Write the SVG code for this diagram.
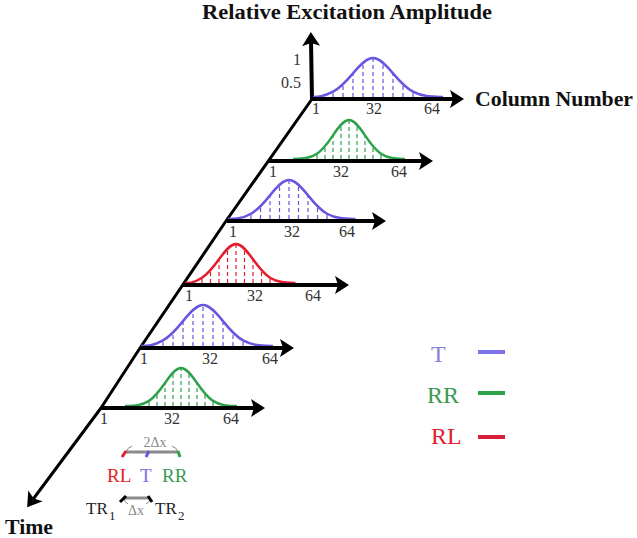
<svg xmlns="http://www.w3.org/2000/svg" width="637" height="538" viewBox="0 0 637 538">
<style>
.ax{stroke:#000;stroke-width:4;fill:none;marker-end:url(#ah)}
.diag{stroke:#000;stroke-width:3;fill:none;stroke-linejoin:round;marker-end:url(#ah)}
.cb{stroke:#6656e0;fill:none;stroke-width:2.5}
.cg{stroke:#2ca24a;fill:none;stroke-width:2.5}
.cr{stroke:#e31d2b;fill:none;stroke-width:2.5}
.db{stroke:#6656e0;fill:none;stroke-width:1.2;stroke-dasharray:4 3}
.dg{stroke:#2ca24a;fill:none;stroke-width:1.2;stroke-dasharray:4 3}
.dr{stroke:#e31d2b;fill:none;stroke-width:1.2;stroke-dasharray:4 3}
.bold{font-family:"Liberation Serif","Times New Roman",serif;font-weight:bold;font-size:20px;fill:#111}
.num{font-family:"Liberation Serif","Times New Roman",serif;font-size:16px;fill:#333;text-anchor:middle}
.lg{font-family:"Liberation Serif","Times New Roman",serif;font-size:24px}
.sm{font-family:"Liberation Serif","Times New Roman",serif;font-size:19px}
.gr{stroke:#8a8a8a;fill:none}
</style>
<defs>
<marker id="ah" viewBox="-1 -10 16 20" markerWidth="16" markerHeight="20" refX="5" refY="0" orient="auto" markerUnits="userSpaceOnUse">
<path d="M0,-9 L14,0 L0,9 L3,0 z" fill="#000"/>
</marker>
</defs>

<text class="bold" x="202" y="19" textLength="290" lengthAdjust="spacingAndGlyphs">Relative Excitation Amplitude</text>
<text class="bold" x="475" y="106" textLength="158" lengthAdjust="spacingAndGlyphs">Column Number</text>
<text class="bold" x="5" y="534" textLength="48" lengthAdjust="spacingAndGlyphs">Time</text>

<g id="connectors">
<line class="ax" x1="312" y1="99" x2="311" y2="41"/>
<path class="diag" d="M312,99 L226,221 L140,348 L101,408 L32.5,500"/>
</g>

<text class="num" x="297" y="65">1</text>
<text class="num" x="291" y="88">0.5</text>

<g id="row1">
<path class="db" d="M333,97V91.7M343,97V84.3M353,97V73.3M363,97V62.6M373,97V58M383,97V62.6M393,97V73.3M403,97V84.3M413,97V91.7"/>
<path class="cb" d="M313,97 C318,97 323,97 333,91.72 C339.66,88.21 346.34,81.23 353,73.35 C359.66,65.46 366.34,58 373,58 C379.66,58 386.34,65.46 393,73.35 C399.66,81.23 406.34,88.21 413,91.72 C423,97 433,96.77 443,97"/>
<line class="ax" x1="312" y1="99" x2="455" y2="99"/>
<text class="num" x="316" y="114">1</text><text class="num" x="374" y="114">32</text><text class="num" x="432" y="114">64</text>
</g>

<g id="row2">
<path class="dg" d="M317,159V153.7M325,159V146.3M333,159V135.3M341,159V124.6M349,159V120M357,159V124.6M365,159V135.3M373,159V146.3M381,159V153.7"/>
<path class="cg" d="M293,159 C301,158.77 309,159 317,153.72 C322.33,150.21 327.67,143.23 333,135.35 C338.33,127.46 343.67,120 349,120 C354.33,120 359.67,127.46 365,135.35 C370.33,143.23 375.67,150.21 381,153.72 C389,159 397,158.77 405,159"/>
<line class="ax" x1="269" y1="161" x2="424" y2="161"/>
<text class="num" x="273" y="177">1</text><text class="num" x="341" y="177">32</text><text class="num" x="399" y="177">64</text>
</g>

<g id="row3">
<path class="db" d="M251,219V213.7M260.5,219V206.3M270,219V195.3M279.5,219V184.6M289,219V180M298.5,219V184.6M308,219V195.3M317.5,219V206.3M327,219V213.7"/>
<path class="cb" d="M228,219 C235,219 241.5,219 251,213.72 C257.33,210.21 263.67,203.23 270,195.35 C276.33,187.46 282.67,180 289,180 C295.33,180 301.67,187.46 308,195.35 C314.33,203.23 320.67,210.21 327,213.72 C336.5,219 346,218.77 355.5,219"/>
<line class="ax" x1="227" y1="221" x2="377" y2="221"/>
<text class="num" x="233" y="237">1</text><text class="num" x="292" y="237">32</text><text class="num" x="347" y="237">64</text>
</g>

<g id="row4">
<path class="dr" d="M202,283V277.7M210.5,283V270.3M219,283V259.3M227.5,283V248.6M236,283V244M244.5,283V248.6M253,283V259.3M261.5,283V270.3M270,283V277.7"/>
<path class="cr" d="M185,283 C190,283 193.5,283 202,277.72 C207.67,274.21 213.33,267.23 219,259.35 C224.67,251.46 230.33,244 236,244 C241.67,244 247.33,251.46 253,259.35 C258.67,267.23 264.33,274.21 270,277.72 C278.5,283 287,282.77 295.5,283"/>
<line class="ax" x1="183" y1="285" x2="340" y2="285"/>
<text class="num" x="189" y="301">1</text><text class="num" x="255" y="301">32</text><text class="num" x="313" y="301">64</text>
</g>

<g id="row5">
<path class="db" d="M163,346V340.5M173,346V332.7M183,346V321.1M193,346V309.8M203,346V305M213,346V309.8M223,346V321.1M233,346V332.7M243,346V340.5"/>
<path class="cb" d="M141,346 C148,346 153,346 163,340.45 C169.66,336.75 176.34,329.42 183,321.13 C189.66,312.84 196.34,305 203,305 C209.66,305 216.34,312.84 223,321.13 C229.66,329.42 236.34,336.75 243,340.45 C253,346 263,345.75 273,346"/>
<line class="ax" x1="140" y1="348" x2="285" y2="348"/>
<text class="num" x="144" y="364">1</text><text class="num" x="210" y="364">32</text><text class="num" x="270" y="364">64</text>
</g>

<g id="row6">
<path class="dg" d="M149,406V400.9M157,406V393.7M165,406V383M173,406V372.5M181,406V368M189,406V372.5M197,406V383M205,406V393.7M213,406V400.9"/>
<path class="cg" d="M125,406 C133,405.77 141,406 149,400.86 C154.33,397.43 159.67,390.64 165,382.95 C170.33,375.27 175.67,368 181,368 C186.33,368 191.67,375.27 197,382.95 C202.33,390.64 207.67,397.43 213,400.86 C221,406 229,405.77 237,406"/>
<line class="ax" x1="101" y1="408" x2="256" y2="408"/>
<text class="num" x="104" y="424">1</text><text class="num" x="172" y="424">32</text><text class="num" x="231" y="424">64</text>
</g>

<g id="legend">
<text class="lg" x="431" y="362" fill="#8a7fe0">T</text>
<line x1="478" y1="352" x2="505" y2="352" stroke="#7b70e8" stroke-width="4"/>
<text class="lg" x="427" y="403" fill="#3a9a50">RR</text>
<line x1="478" y1="393" x2="505" y2="393" stroke="#2ca24a" stroke-width="4"/>
<text class="lg" x="431" y="444" fill="#e02030">RL</text>
<line x1="478" y1="437" x2="505" y2="437" stroke="#d81f35" stroke-width="4"/>
</g>

<g id="spacing">
<text x="155" y="447" font-family="Liberation Serif, Times New Roman, serif" font-size="14" fill="#8a8a8a" text-anchor="middle">2Δx</text>
<line class="gr" x1="126" y1="452" x2="178" y2="452" stroke-width="3"/>
<path class="gr" stroke-width="1" d="M132,446 Q127,448 126,452 M172,446 Q177,448 178,452"/>
<line x1="122" y1="457" x2="126" y2="451" stroke="#e31d2b" stroke-width="3"/>
<line x1="146" y1="457" x2="149" y2="451" stroke="#6656e0" stroke-width="3"/>
<line x1="178" y1="451" x2="180" y2="457" stroke="#2ca24a" stroke-width="3"/>
<text class="sm" x="107" y="482" fill="#e31d2b">RL</text>
<text class="sm" x="140" y="482" fill="#7b70e0">T</text>
<text class="sm" x="162" y="482" fill="#3a9a50">RR</text>

<text x="86" y="514" font-family="Liberation Serif, Times New Roman, serif" font-size="17" fill="#222">TR</text>
<text x="109" y="520" font-family="Liberation Serif, Times New Roman, serif" font-size="13" fill="#222">1</text>
<line class="gr" x1="124" y1="498" x2="150" y2="498" stroke-width="3"/>
<path class="gr" stroke-width="1" d="M128,504 Q124,502 124,498 M146,504 Q150,502 150,498"/>
<line x1="120" y1="502" x2="126" y2="496" stroke="#000" stroke-width="3"/>
<line x1="148" y1="496" x2="152" y2="502" stroke="#000" stroke-width="3"/>
<text x="136" y="515" font-family="Liberation Serif, Times New Roman, serif" font-size="14" fill="#8a8a8a" text-anchor="middle">Δx</text>
<text x="155" y="514" font-family="Liberation Serif, Times New Roman, serif" font-size="17" fill="#222">TR</text>
<text x="178" y="520" font-family="Liberation Serif, Times New Roman, serif" font-size="13" fill="#222">2</text>
</g>
</svg>
